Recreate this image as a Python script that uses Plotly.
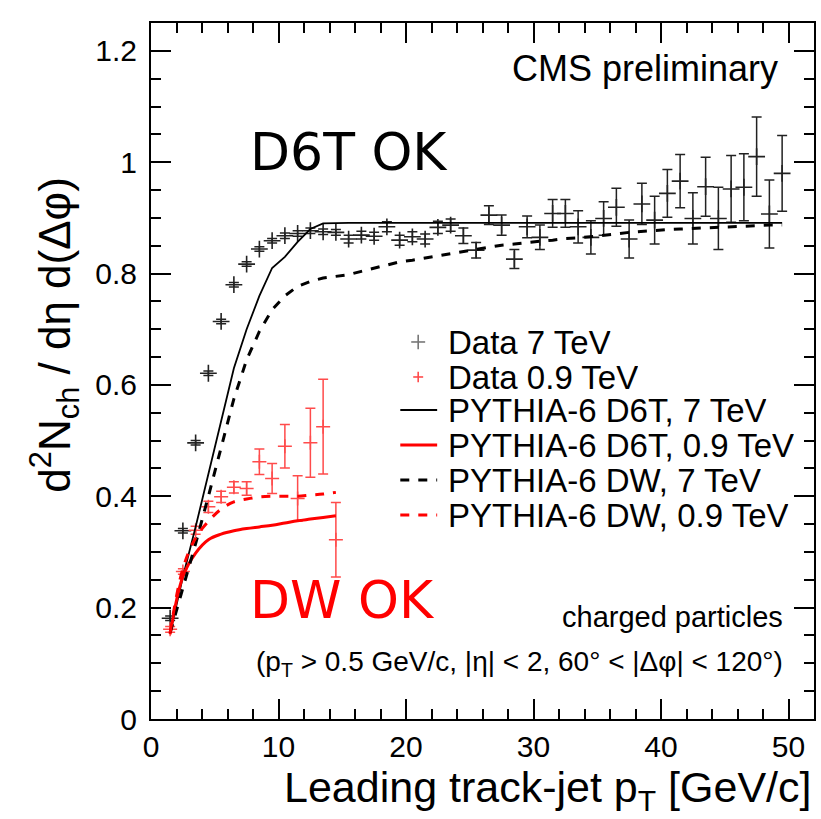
import plotly.graph_objects as go

# ---------------- data ----------------
pt_7 = [1.5, 2.5, 3.5, 4.5, 5.5, 6.5, 7.5, 8.5, 9.5, 10.5, 11.5, 12.5, 13.5, 14.5, 15.5,
        16.5, 17.5, 18.5, 19.5, 20.5, 21.5, 22.5, 23.5, 24.5, 25.5, 26.5, 27.5, 28.5, 29.5,
        30.5, 31.5, 32.5, 33.5, 34.5, 35.5, 36.5, 37.5, 38.5, 39.5, 40.5, 41.5, 42.5, 43.5,
        44.5, 45.5, 46.5, 47.5, 48.5, 49.5]
data_7 = [0.181, 0.338, 0.496, 0.621, 0.714, 0.780, 0.817, 0.844, 0.859, 0.868, 0.872, 0.877,
          0.875, 0.874, 0.862, 0.869, 0.867, 0.884, 0.860, 0.866, 0.862, 0.883, 0.887, 0.868,
          0.842, 0.905, 0.887, 0.826, 0.884, 0.865, 0.908, 0.908, 0.884, 0.865, 0.899, 0.919,
          0.862, 0.925, 0.896, 0.944, 0.966, 0.899, 0.956, 0.899, 0.952, 0.955, 1.010, 0.907,
          0.980]
err_7 = [0.004, 0.004, 0.004, 0.004, 0.004, 0.004, 0.004, 0.004, 0.004, 0.005, 0.005, 0.005,
         0.005, 0.005, 0.007, 0.007, 0.007, 0.009, 0.009, 0.009, 0.009, 0.011, 0.011, 0.014,
         0.014, 0.017, 0.018, 0.017, 0.0195, 0.022, 0.025, 0.025, 0.029, 0.030, 0.030, 0.034,
         0.034, 0.037, 0.043, 0.043, 0.048, 0.046, 0.053, 0.056, 0.060, 0.060, 0.071, 0.061,
         0.068]
d6t_7 = [0.155, 0.255, 0.345, 0.440, 0.535, 0.630, 0.700, 0.760, 0.810, 0.830, 0.857, 0.880,
         0.890, 0.891, 0.891, 0.891, 0.891, 0.891, 0.891, 0.891, 0.891, 0.891, 0.891, 0.891,
         0.891, 0.891, 0.891, 0.891, 0.891, 0.891, 0.891, 0.891, 0.891, 0.891, 0.891, 0.891,
         0.891, 0.891, 0.891, 0.891, 0.891, 0.891, 0.891, 0.891, 0.891, 0.891, 0.891, 0.891,
         0.891]
dw_7 = [0.155, 0.235, 0.315, 0.400, 0.490, 0.575, 0.645, 0.696, 0.735, 0.760, 0.777, 0.786,
        0.792, 0.795, 0.798, 0.804, 0.810, 0.815, 0.821, 0.824, 0.828, 0.831, 0.835, 0.840,
        0.844, 0.848, 0.851, 0.853, 0.856, 0.858, 0.860, 0.863, 0.864, 0.866, 0.868, 0.871,
        0.874, 0.876, 0.877, 0.879, 0.880, 0.881, 0.883, 0.884, 0.885, 0.886, 0.886, 0.887,
        0.887]

pt_09 = [1.5, 2.5, 3.5, 4.5, 5.5, 6.5, 7.5, 8.5, 9.5, 10.5, 11.5, 12.5, 13.5, 14.5]
data_09 = [0.161, 0.265, 0.339, 0.381, 0.399, 0.416, 0.414, 0.462, 0.432, 0.490, 0.396, 0.496,
           0.525, 0.322]
err_09 = [0.005, 0.005, 0.007, 0.010, 0.010, 0.010, 0.012, 0.023, 0.027, 0.039, 0.041, 0.062,
          0.085, 0.067]
d6t_09 = [0.152, 0.256, 0.298, 0.322, 0.332, 0.338, 0.342, 0.345, 0.348, 0.352, 0.356, 0.359,
          0.362, 0.365]
dw_09 = [0.155, 0.270, 0.325, 0.355, 0.377, 0.390, 0.395, 0.399, 0.400, 0.400, 0.400, 0.402,
         0.404, 0.407]

legend_labels = ["Data 7 TeV", "Data 0.9 TeV", "PYTHIA-6 D6T, 7 TeV", "PYTHIA-6 D6T, 0.9 TeV",
                 "PYTHIA-6 DW, 7 TeV", "PYTHIA-6 DW, 0.9 TeV"]

FONT = "Liberation Sans, Arial, Helvetica, sans-serif"
RED = "#ff0000"
LRED = "rgb(255,75,75)"
DGRAY = "#222222"

fig = go.Figure()

fig.add_trace(go.Scatter(
    x=pt_7, y=data_7, mode="markers", name=legend_labels[0],
    marker=dict(symbol="cross-thin", size=12, line=dict(color=DGRAY, width=1.6), color=DGRAY),
    error_y=dict(type="data", array=err_7, color=DGRAY, thickness=1.5, width=5),
))
fig.add_trace(go.Scatter(
    x=pt_09, y=data_09, mode="markers", name=legend_labels[1],
    marker=dict(symbol="cross-thin", size=10, line=dict(color=LRED, width=1.5), color=LRED),
    error_y=dict(type="data", array=err_09, color=LRED, thickness=1.5, width=5),
))
fig.add_trace(go.Scatter(
    x=pt_7, y=d6t_7, mode="lines", name=legend_labels[2],
    line=dict(color="black", width=1.8),
))
fig.add_trace(go.Scatter(
    x=pt_09, y=d6t_09, mode="lines", name=legend_labels[3],
    line=dict(color=RED, width=3, shape="spline"),
))
fig.add_trace(go.Scatter(
    x=pt_7, y=dw_7, mode="lines", name=legend_labels[4],
    line=dict(color="black", width=3, dash="dash"),
))
fig.add_trace(go.Scatter(
    x=pt_09, y=dw_09, mode="lines", name=legend_labels[5],
    line=dict(color=RED, width=3, dash="dash", shape="spline"),
))

axis_common = dict(
    showline=True, linecolor="black", linewidth=2, mirror="ticks",
    ticks="inside", tickcolor="black", tickwidth=1.5, ticklen=20,
    showgrid=False, zeroline=False,
    tickfont=dict(family=FONT, size=30, color="black"),
)

fig.update_xaxes(range=[0, 52], tickvals=[0, 10, 20, 30, 40, 50],
                 minor=dict(dtick=2, ticks="inside", ticklen=10, tickcolor="black", tickwidth=1.5),
                 **axis_common)
fig.update_yaxes(range=[0, 1.25], tickvals=[0, 0.2, 0.4, 0.6, 0.8, 1.0, 1.2],
                 ticktext=["0", "0.2", "0.4", "0.6", "0.8", "1", "1.2"],
                 minor=dict(dtick=0.05, ticks="inside", ticklen=10, tickcolor="black", tickwidth=1.5),
                 ticklabelstandoff=6,
                 **axis_common)

annotations = [
    dict(text="CMS preliminary", x=0.948, y=0.935, xref="paper", yref="paper",
         xanchor="right", yanchor="middle", showarrow=False,
         font=dict(family=FONT, size=36, color="black")),
    dict(text="D6T OK", x=0.146, y=0.815, xref="paper", yref="paper",
         xanchor="left", yanchor="middle", showarrow=False,
         font=dict(family="Comic Sans MS, DejaVu Sans, sans-serif", size=52, color="black")),
    dict(text="DW OK", x=0.146, y=0.171, xref="paper", yref="paper",
         xanchor="left", yanchor="middle", showarrow=False,
         font=dict(family="Comic Sans MS, DejaVu Sans, sans-serif", size=52, color=RED)),
    dict(text="charged particles", x=0.956, y=0.147, xref="paper", yref="paper",
         xanchor="right", yanchor="middle", showarrow=False,
         font=dict(family=FONT, size=29, color="black")),
    dict(text="(p<sub>T</sub> > 0.5 GeV/c, |η| < 2, 60° < |Δφ| < 120°)", x=0.956, y=0.080,
         xref="paper", yref="paper", xanchor="right", yanchor="middle", showarrow=False,
         font=dict(family=FONT, size=28, color="black")),
    dict(text="Leading track-jet p<sub>T</sub> [GeV/c]", x=1.0, y=-0.102,
         xref="paper", yref="paper", xanchor="right", yanchor="middle", showarrow=False,
         font=dict(family=FONT, size=43, color="black")),
    dict(text="d<sup>2</sup>N<sub>ch</sub> / dη d(Δφ)", x=-0.145, y=0.552,
         xref="paper", yref="paper", xanchor="center", yanchor="middle", showarrow=False,
         textangle=-90, font=dict(family=FONT, size=44, color="black")),
]

# ---- hand-drawn legend (ROOT-style spacing) ----
row_y = [0.5417, 0.4914, 0.4440, 0.3937, 0.3434, 0.2931]
text_x = 0.445
key_x0, key_x1, cross_x = 0.376, 0.4316, 0.403
for lab, yy in zip(legend_labels, row_y):
    annotations.append(dict(text=lab, x=text_x, y=yy, xref="paper", yref="paper",
                            xanchor="left", yanchor="middle", showarrow=False,
                            height=34, valign="middle",
                            font=dict(family=FONT, size=33, color="black")))

shapes = []
# crosses for data keys
for yy, col, hw, hh in [(row_y[0], "#777777", 0.0105, 0.0105), (row_y[1], LRED, 0.0075, 0.0075)]:
    shapes.append(dict(type="line", xref="paper", yref="paper", x0=cross_x - hw, x1=cross_x + hw,
                       y0=yy, y1=yy, line=dict(color=col, width=1.6)))
    shapes.append(dict(type="line", xref="paper", yref="paper", x0=cross_x, x1=cross_x,
                       y0=yy - hh, y1=yy + hh, line=dict(color=col, width=1.6)))
# line keys
for yy, col, w, dash in [(row_y[2], "black", 1.8, "solid"), (row_y[3], RED, 3, "solid"),
                         (row_y[4], "black", 3, "dash"), (row_y[5], RED, 3, "dash")]:
    shapes.append(dict(type="line", xref="paper", yref="paper", x0=key_x0, x1=key_x1,
                       y0=yy, y1=yy, line=dict(color=col, width=w, dash=dash)))

fig.update_layout(
    width=821, height=819,
    margin=dict(l=151, r=5, t=23, b=100),
    paper_bgcolor="white", plot_bgcolor="white",
    showlegend=False,
    annotations=annotations,
    shapes=shapes,
)

fig.write_html("out.html")
